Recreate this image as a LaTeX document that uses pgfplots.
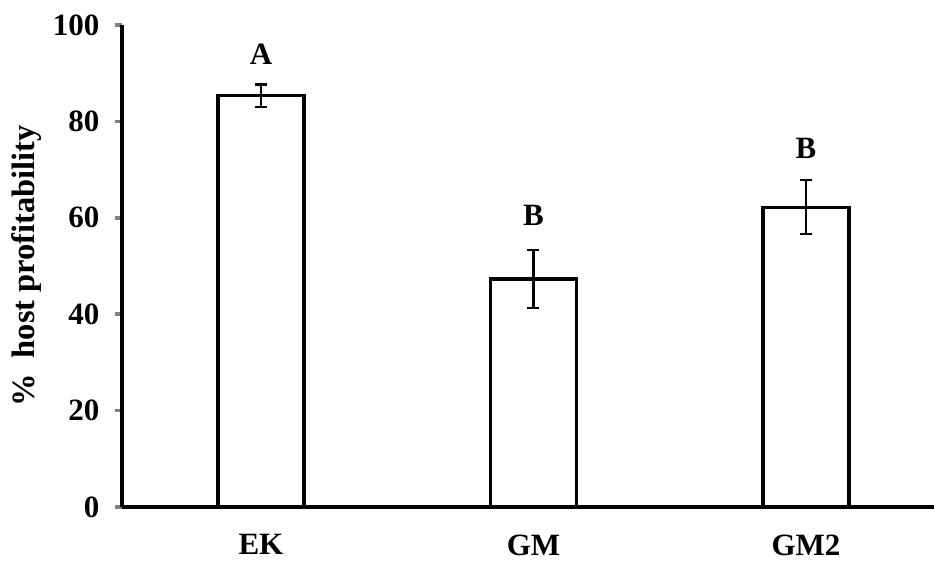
\documentclass[border=0pt]{standalone}
\usepackage{pgfplots}
\pgfplotsset{compat=1.18}
\usepackage{fontspec}
\setmainfont{Liberation Serif}
\begin{document}
\begin{tikzpicture}
\useasboundingbox (-122pt,-58pt) rectangle (812pt,507pt);
\begin{axis}[
  scale only axis,
  width=812pt, height=482pt,
  xmin=-0.51, xmax=2.47,
  ymin=0, ymax=100,
  axis lines=left,
  axis line style={-, line width=3.5pt},
  xtick={0,1,2},
  xticklabels={EK,GM,GM2},
  xtick style={draw=none},
  ytick={0,20,40,60,80,100},
  ytick style={line width=3.5pt},
  tick align=outside,
  major tick length=7pt,
  /pgf/number format/assume math mode=true,
  tick label style={font=\fontsize{31}{36}\selectfont\bfseries},
  xticklabel style={yshift=-17pt},
  yticklabel style={xshift=-12pt},
  ylabel={\%\ \ host profitability},
  every axis y label/.style={at={(axis description cs:-0.117,0.5)}, rotate=90, anchor=center, font=\fontsize{32.5}{38}\selectfont\bfseries},
  ybar, bar width=86pt,
  clip=false,
]
\addplot[draw=black, fill=white, line width=3.2pt,
  error bars/.cd, y dir=both, y explicit,
  error bar style={line width=2.2pt, black},
  error mark options={rotate=90, mark size=6pt, line width=2.2pt, black}]
coordinates {
  (0,85.3) +- (0,2.35)
  (1,47.3) +- (0,5.95)
  (2,62.2) +- (0,5.6)
};
\node[anchor=base, font=\fontsize{31}{36}\selectfont\bfseries] at (axis cs:0,91.9) {A};
\node[anchor=base, font=\fontsize{31}{36}\selectfont\bfseries] at (axis cs:1,58.5) {B};
\node[anchor=base, font=\fontsize{31}{36}\selectfont\bfseries] at (axis cs:2,72.4) {B};
\end{axis}
\end{tikzpicture}
\end{document}
